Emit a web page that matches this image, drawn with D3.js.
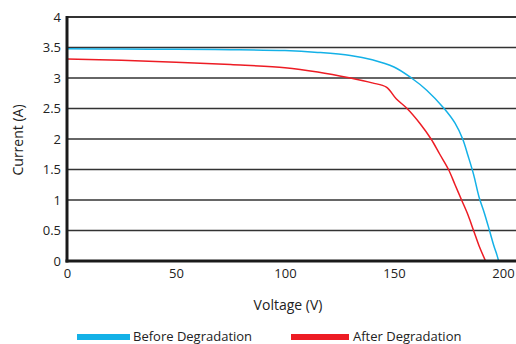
<!DOCTYPE html>
<html>
<head>
<meta charset="utf-8">
<script src="https://cdn.jsdelivr.net/npm/d3@7"></script>
<style>
  body { margin: 0; background: #fff; }
  svg { display: block; font-family: "Open Sans", sans-serif; }
</style>
</head>
<body>
<svg id="chart" width="516" height="344"></svg>
<script>
// values
const seriesNames = ['Before Degradation', 'After Degradation'];
const beforeVoltage = [0, 25, 50, 75, 100, 115, 130, 140, 150, 158, 165, 173, 178, 181.5, 184, 186.5, 189, 191.5, 193.8, 195.8, 197.2, 198];
const beforeCurrent = [3.48, 3.475, 3.47, 3.465, 3.45, 3.42, 3.37, 3.3, 3.18, 3.0, 2.8, 2.5, 2.26, 2.0, 1.72, 1.42, 1.05, 0.78, 0.5, 0.25, 0.1, 0];
const afterVoltage = [0, 25, 50, 75, 100, 115, 130, 140, 146.5, 151, 156, 162, 167, 171, 175, 178, 181, 184, 186.5, 189, 192];
const afterCurrent = [3.31, 3.29, 3.26, 3.22, 3.17, 3.1, 3.0, 2.92, 2.85, 2.66, 2.5, 2.25, 2.0, 1.75, 1.5, 1.25, 1.0, 0.75, 0.5, 0.25, 0];
const xTicks = [0, 50, 100, 150, 200];
const yTicks = [0, 0.5, 1, 1.5, 2, 2.5, 3, 3.5, 4];

const BLUE = '#14b1e7';
const RED = '#ed1c24';

const svg = d3.select('#chart');
const plot = { left: 67, right: 516, top: 17, bottom: 261 };

const x = d3.scaleLinear().domain([0, 200]).range([plot.left, 503]);
const y = d3.scaleLinear().domain([0, 4]).range([plot.bottom, plot.top]);

// horizontal grid lines
svg.append('g')
  .selectAll('line')
  .data(yTicks.filter(d => d > 0 && d < 4))
  .join('line')
  .attr('x1', plot.left)
  .attr('x2', plot.right)
  .attr('y1', d => y(d))
  .attr('y2', d => y(d))
  .attr('stroke', '#333')
  .attr('stroke-width', 1.4);

// top border
svg.append('line')
  .attr('x1', plot.left).attr('x2', plot.right)
  .attr('y1', y(4)).attr('y2', y(4))
  .attr('stroke', '#333').attr('stroke-width', 2.2);

// y axis labels
const yAxis = d3.axisLeft(y).tickValues(yTicks).tickFormat(d => String(d)).tickSize(0).tickPadding(6);
const yAxisEl = svg.append('g')
  .attr('transform', `translate(${plot.left},0)`)
  .call(yAxis);
yAxisEl.select('.domain').remove();
yAxisEl.selectAll('text')
  .style('font-family', '"Open Sans", sans-serif')
  .style('font-size', '13px')
  .style('fill', '#222');

// x axis labels
const xAxis = d3.axisBottom(x).tickValues(xTicks).tickSize(0).tickPadding(8);
const xAxisEl = svg.append('g')
  .attr('transform', `translate(0,${plot.bottom})`)
  .call(xAxis);
xAxisEl.select('.domain').remove();
xAxisEl.selectAll('text')
  .style('font-family', '"Open Sans", sans-serif')
  .style('font-size', '13px')
  .style('fill', '#222');

// curves
const line = d3.line()
  .x(d => x(d[0]))
  .y(d => y(d[1]))
  .curve(d3.curveCatmullRom.alpha(0.5));

const curves = [
  { name: seriesNames[0], color: BLUE, pts: d3.zip(beforeVoltage, beforeCurrent) },
  { name: seriesNames[1], color: RED, pts: d3.zip(afterVoltage, afterCurrent) },
];

svg.append('g')
  .selectAll('path')
  .data(curves)
  .join('path')
  .attr('d', d => line(d.pts))
  .attr('fill', 'none')
  .attr('stroke', d => d.color)
  .attr('stroke-width', 1.5);

// axis lines (thick)
svg.append('line')
  .attr('x1', plot.left).attr('x2', plot.left)
  .attr('y1', plot.top - 1).attr('y2', plot.bottom + 1.5)
  .attr('stroke', '#1a1a1a').attr('stroke-width', 3);
svg.append('line')
  .attr('x1', plot.left - 1.5).attr('x2', plot.right)
  .attr('y1', plot.bottom).attr('y2', plot.bottom)
  .attr('stroke', '#1a1a1a').attr('stroke-width', 3);

// axis titles
svg.append('text')
  .attr('x', 288).attr('y', 310)
  .attr('text-anchor', 'middle')
  .style('font-size', '14px')
  .style('fill', '#222')
  .text('Voltage (V)');

svg.append('text')
  .attr('transform', 'translate(23,140) rotate(-90)')
  .attr('text-anchor', 'middle')
  .style('font-size', '14px')
  .style('fill', '#222')
  .text('Current (A)');

// legend
const legendPos = [77, 291];
const legend = svg.append('g')
  .selectAll('g')
  .data(curves)
  .join('g')
  .attr('transform', (d, i) => `translate(${legendPos[i]},334)`);
legend.append('rect')
  .attr('width', (d, i) => i === 0 ? 53 : 58)
  .attr('height', 6)
  .attr('fill', d => d.color);
legend.append('text')
  .attr('x', (d, i) => i === 0 ? 56 : 62)
  .attr('y', 6.5)
  .style('font-size', '13px')
  .style('fill', '#222')
  .text(d => d.name);
</script>
</body>
</html>
